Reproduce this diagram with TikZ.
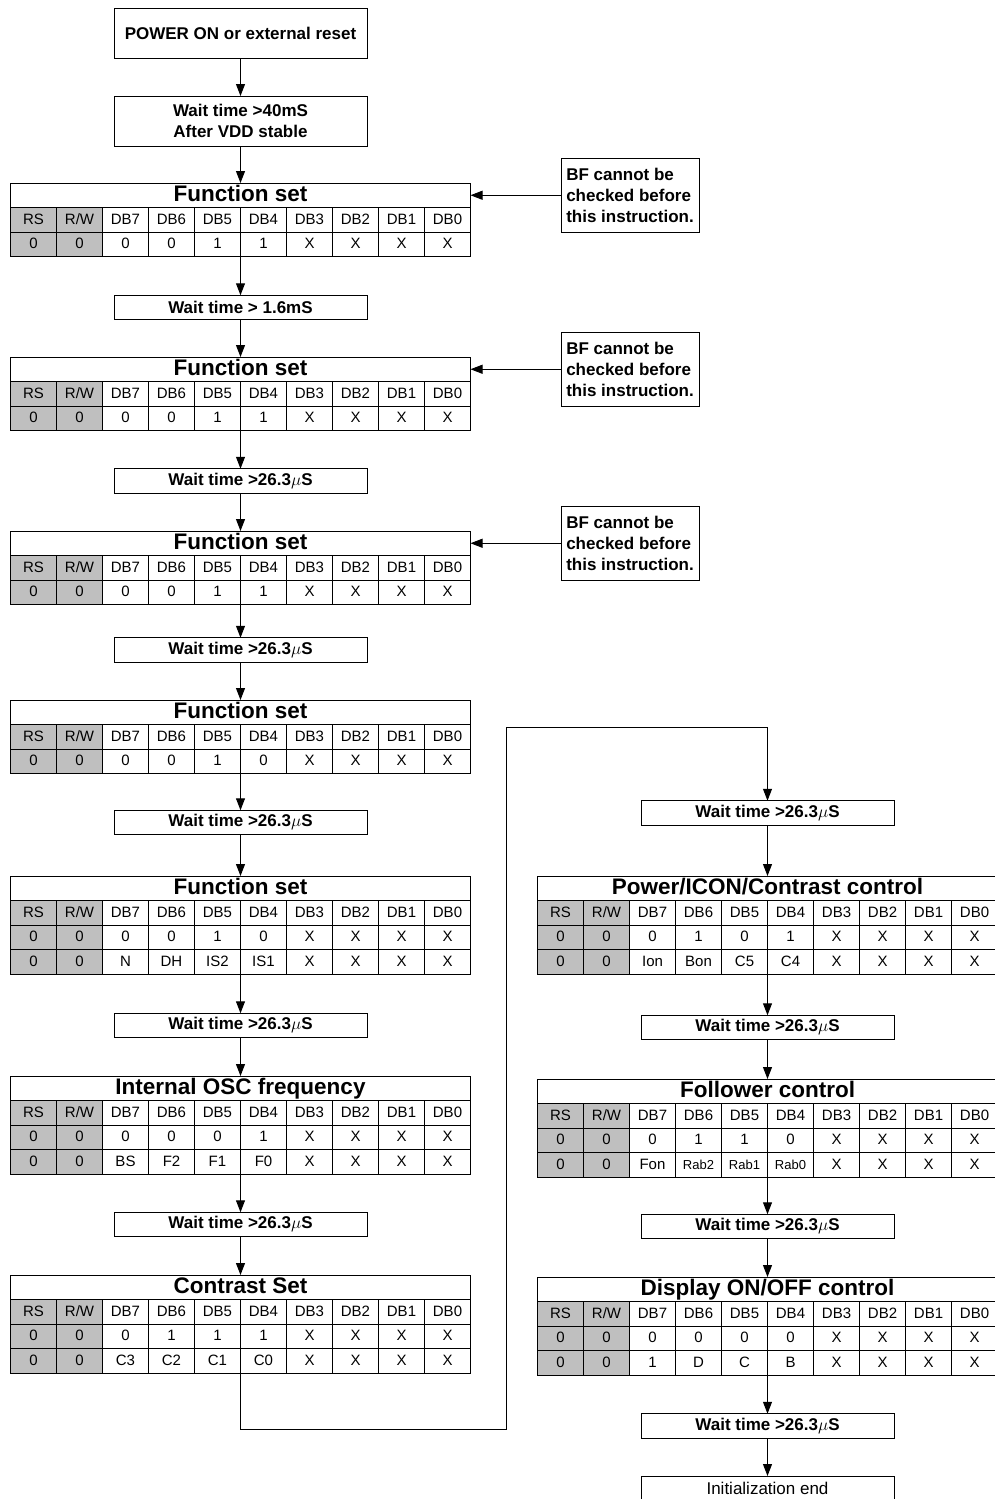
\documentclass[tikz,border=0pt]{standalone}
\usepackage{fontspec}
\setmainfont{Liberation Sans}
\usetikzlibrary{arrows.meta}

\definecolor{regfill}{gray}{0.75}

\newcommand{\rw}{R/W}
\newcommand{\smallbit}[1]{{\fontsize{13}{14}\selectfont #1}}

\tikzset{
  box/.style={draw, line width=1pt, minimum width=253pt, minimum height=24.5pt,
    inner sep=0pt, outer sep=0pt, align=center, font=\fontsize{17}{21}\selectfont\bfseries},
  endbox/.style={box, font=\fontsize{17}{21}\selectfont},
  notebox/.style={draw, line width=1pt, minimum width=138pt, minimum height=74pt,
    inner sep=5pt, outer sep=0pt, align=left,
    font=\fontsize{17}{21}\selectfont\bfseries},
  tableframe/.style={minimum width=460pt, inner sep=0pt, outer sep=0pt},
  titlecell/.style={draw, line width=1pt, minimum width=460pt, minimum height=24.5pt,
    inner sep=0pt, outer sep=0pt, text height=16pt, text depth=4pt,
    font=\fontsize{22.5}{24}\selectfont\bfseries},
  cell/.style={draw, line width=1pt, anchor=north west, minimum width=46pt,
    minimum height=24.5pt, inner sep=0pt, outer sep=0pt, text height=11pt, text depth=2pt,
    font=\fontsize{15}{17}\selectfont}
}

% name, left x, top y, value rows, title, values
\newcommand{\regtable}[6]{%
  \node[tableframe, minimum height={(#4+2)*24.5pt}, anchor=north west] (#1) at (#2,#3) {};
  \node[titlecell, anchor=north west] (#1t) at (#2,#3) {#5};
  \fill[regfill] (#2,#3+24.5) rectangle ++(92,{(#4+1)*24.5});
  \foreach \h [count=\k] in {RS,\rw,DB7,DB6,DB5,DB4,DB3,DB2,DB1,DB0}
    \node[cell] (#1-h-\k) at ({#2+(\k-1)*46},#3+24.5) {\h};
  \foreach \row [count=\r] in {#6}
    \foreach \v [count=\k] in \row
      \node[cell] (#1-\r-\k) at ({#2+(\k-1)*46},{#3+(\r+1)*24.5}) {\v};
}

\begin{document}
\begin{tikzpicture}[x=1pt, y=-1pt, ->, >={Triangle[length=12pt,width=9pt]}, line width=1pt]

\useasboundingbox (0,0) rectangle (995,1499);
\clip (0,0) rectangle (995,1499);

\node [box, minimum height=50pt] (pwr) at (240.5,33)  {POWER ON or external reset};
\node [box, minimum height=50pt] (w0)  at (240.5,121) {Wait time >40mS\\After VDD stable};

\regtable{fs1}{10.5}{183}{1}{Function set}{{0,0,0,0,1,1,X,X,X,X}}
\node [notebox] (bf1) at (630,195.25) {BF cannot be\\checked before\\this instruction.};
\node [box] (w1) at (240.5,307.5) {Wait time > 1.6mS};

\regtable{fs2}{10.5}{357}{1}{Function set}{{0,0,0,0,1,1,X,X,X,X}}
\node [notebox] (bf2) at (630,369.25) {BF cannot be\\checked before\\this instruction.};
\node [box] (w2) at (240.5,481) {Wait time >26.3$\mu$S};

\regtable{fs3}{10.5}{531}{1}{Function set}{{0,0,0,0,1,1,X,X,X,X}}
\node [notebox] (bf3) at (630,543.25) {BF cannot be\\checked before\\this instruction.};
\node [box] (w3) at (240.5,650) {Wait time >26.3$\mu$S};

\regtable{fs4}{10.5}{700}{1}{Function set}{{0,0,0,0,1,0,X,X,X,X}}
\node [box] (w4) at (240.5,822.5) {Wait time >26.3$\mu$S};

\regtable{fs5}{10.5}{876}{2}{Function set}{{0,0,0,0,1,0,X,X,X,X},{0,0,N,DH,IS2,IS1,X,X,X,X}}
\node [box] (w5) at (240.5,1025.5) {Wait time >26.3$\mu$S};

\regtable{osc}{10.5}{1076}{2}{Internal OSC frequency}{{0,0,0,0,0,1,X,X,X,X},{0,0,BS,F2,F1,F0,X,X,X,X}}
\node [box] (w6) at (240.5,1224.5) {Wait time >26.3$\mu$S};

\regtable{cs}{10.5}{1275}{2}{Contrast Set}{{0,0,0,1,1,1,X,X,X,X},{0,0,C3,C2,C1,C0,X,X,X,X}}

\coordinate (loopA) at (506,1429);
\coordinate (loopB) at (506,727.5);

\node [box] (w7) at (767.5,813) {Wait time >26.3$\mu$S};
\regtable{pic}{537.5}{876}{2}{Power/ICON/Contrast control}{{0,0,0,1,0,1,X,X,X,X},{0,0,Ion,Bon,C5,C4,X,X,X,X}}
\node [box] (w8) at (767.5,1027.5) {Wait time >26.3$\mu$S};

\regtable{fol}{537.5}{1079}{2}{Follower control}{{0,0,0,1,1,0,X,X,X,X},{0,0,Fon,\smallbit{Rab2},\smallbit{Rab1},\smallbit{Rab0},X,X,X,X}}
\node [box] (w9) at (767.5,1226.5) {Wait time >26.3$\mu$S};

\regtable{dsp}{537.5}{1277}{2}{Display ON/OFF control}{{0,0,0,0,0,0,X,X,X,X},{0,0,1,D,C,B,X,X,X,X}}
\node [box]    (w10) at (767.5,1426) {Wait time >26.3$\mu$S};
\node [endbox] (end) at (767.5,1488.25) {Initialization end};

\path (pwr) edge (w0)
      (w0)  edge (fs1)
      (fs1) edge (w1)
      (w1)  edge (fs2)
      (fs2) edge (w2)
      (w2)  edge (fs3)
      (fs3) edge (w3)
      (w3)  edge (fs4)
      (fs4) edge (w4)
      (w4)  edge (fs5)
      (fs5) edge (w5)
      (w5)  edge (osc)
      (osc) edge (w6)
      (w6)  edge (cs);

\path (bf1) edge (fs1t)
      (bf2) edge (fs2t)
      (bf3) edge (fs3t);

\draw (cs) |- (loopA) -- (loopB) -| (w7);

\path (w7)  edge (pic)
      (pic) edge (w8)
      (w8)  edge (fol)
      (fol) edge (w9)
      (w9)  edge (dsp)
      (dsp) edge (w10)
      (w10) edge (end);

\end{tikzpicture}
\end{document}
